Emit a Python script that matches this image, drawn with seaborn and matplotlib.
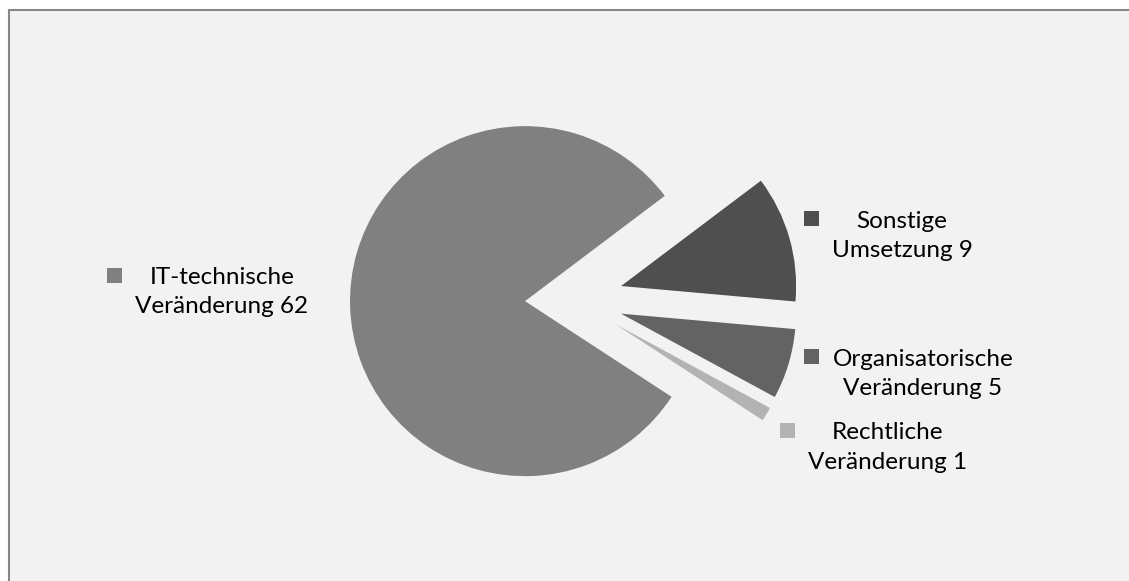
import matplotlib
matplotlib.use("Agg")
import matplotlib.pyplot as plt
import seaborn as sns
from matplotlib.patches import Rectangle

# Data
label_first = ["Sonstige", "Organisatorische", "Rechtliche", "IT-technische"]
label_second = ["Umsetzung", "Veränderung", "Veränderung", "Veränderung"]
values = [9, 5, 1, 62]
colors = ["#4f4f4f", "#636363", "#b3b3b3", "#808080"]

sns.set_theme(style="white")
plt.rcParams["font.family"] = ["Lato", "DejaVu Sans"]

W, H = 1129, 581
fig = plt.figure(figsize=(W / 100, H / 100), dpi=100)
fig.patch.set_facecolor("white")
ax = fig.add_axes([0, 0, 1, 1])

# Exploded pie, drawn in pixel-sized data units
wedges, _ = ax.pie(
    values,
    colors=colors,
    startangle=37,
    counterclock=False,
    radius=175,
    center=(574, 281.5),
    explode=[49] * len(values),
    wedgeprops=dict(linewidth=0, antialiased=True),
)
for w in wedges:
    w.set_zorder(2)

ax.set_xlim(0, W)
ax.set_ylim(0, H)
ax.set_aspect("equal")
ax.axis("off")

# Chart area with its border
ax.add_patch(Rectangle((8.5, -20), W + 20, 571 + 20, facecolor="#f2f2f2",
                       edgecolor="#878787", lw=1.5, zorder=0))

# Data labels with legend keys: (text centre x, text centre y, key x, key y)
label_pos = [
    (902, 345.2, 811.5, 362.5),
    (923, 207.0, 811.5, 225.0),
    (888, 133.5, 787.5, 150.5),
    (222, 289.3, 114.5, 305.5),
]
key = 15
for first, second, val, col, (tx, ty, kx, ky) in zip(label_first, label_second, values, colors, label_pos):
    ax.text(tx, ty, f"{first}\n{second} {val}", ha="center", va="center",
            multialignment="center", fontsize=17.5, color="#000000",
            linespacing=1.48, zorder=3)
    ax.add_patch(Rectangle((kx - key / 2, ky - key / 2), key, key,
                           facecolor=col, edgecolor="none", zorder=3))

fig.savefig("out.png", dpi=100)
